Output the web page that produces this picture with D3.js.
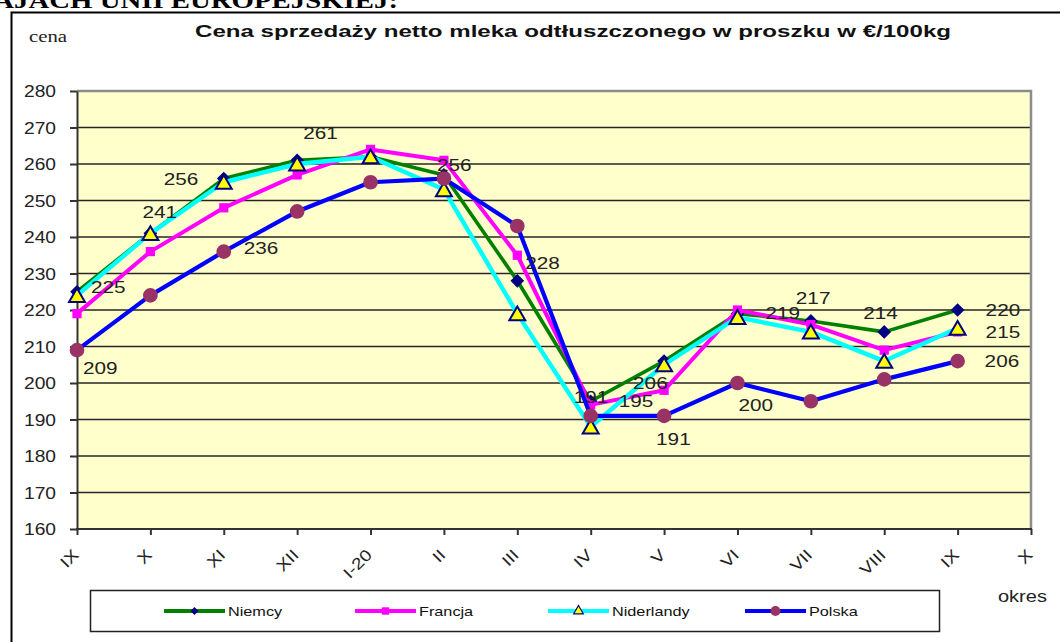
<!DOCTYPE html>
<html>
<head>
<meta charset="utf-8">
<script src="https://cdn.jsdelivr.net/npm/d3@7"></script>
<style>
  body { margin: 0; background: #fff; }
  svg { display: block; font-family: Arial, "Liberation Sans", sans-serif; }
  .grid line { stroke: #262626; stroke-width: 1.3; }
  .axis path, .axis line { stroke: #333; stroke-width: 2; }
</style>
</head>
<body>
<script>
(function () {
  "use strict";
  var width = 1060, height = 642,
    margin = { left: 77, right: 1031, top: 91, bottom: 529 },
    K = 1.22; // the original picture is a bit wider than tall, text looks stretched

  // months (okres)
  var months = ["IX", "X", "XI", "XII", "I-20", "II", "III", "IV", "V", "VI", "VII", "VIII", "IX ", "X "];
  var monthLabels = ["IX", "X", "XI", "XII", "I-20", "II", "III", "IV", "V", "VI", "VII", "VIII", "IX", "X"];
  var yTicks = [160, 170, 180, 190, 200, 210, 220, 230, 240, 250, 260, 270, 280];

  // price in €/100kg, one value per month (last month empty)
  var niemcy = [225, 241, 256, 261, 262, 257, 228, 195, 206, 219, 217, 214, 220];
  var francja = [219, 236, 248, 257, 264, 261, 235, 194, 198, 220, 216, 209, 214];
  var niderlandy = [224, 241, 255, 260, 262, 253, 219, 188, 205, 218, 214, 206, 215];
  var polska = [209, 224, 236, 247, 255, 256, 243, 191, 191, 200, 195, 201, 206];

  var seriesNames = ["Niemcy", "Francja", "Niderlandy", "Polska"];

  // which points carry a value label: [series index, month index]
  var labelled = [
    [0, 0], [0, 1], [0, 2], [0, 3], [0, 6], [0, 7], [0, 8], [0, 9], [0, 10], [0, 11], [0, 12],
    [2, 12],
    [3, 0], [3, 2], [3, 5], [3, 7], [3, 8], [3, 9], [3, 12]
  ];

  var series = [
    { name: seriesNames[0], values: niemcy, line: "#008000", width: 3.6, marker: "diamond", fill: "#000080", stroke: "none" },
    { name: seriesNames[1], values: francja, line: "#ff00ff", width: 4, marker: "square", fill: "#ff00ff", stroke: "none" },
    { name: seriesNames[2], values: niderlandy, line: "#00ffff", width: 4.4, marker: "triangle", fill: "#ffff00", stroke: "#000080" },
    { name: seriesNames[3], values: polska, line: "#0000ff", width: 4.2, marker: "circle", fill: "#993366", stroke: "none" }
  ];

  // label offsets relative to the point, left edge / vertical centre (layout only)
  var labelOffset = {
    "0,0": [14, -5], "0,1": [-8, -21], "0,2": [-60, 0], "0,3": [6, -27], "0,6": [8, -18],
    "0,7": [28, 0], "0,8": [-31, 22], "0,9": [28, -1], "0,10": [-15, -23], "0,11": [-21, -19],
    "0,12": [28, 0], "2,12": [28, 4], "3,0": [6, 18], "3,2": [20, -4], "3,5": [-7, -14],
    "3,7": [-17, -19], "3,8": [-8, 23], "3,9": [1, 22], "3,12": [27, 0]
  };

  // widen a text by k around its own x (the picture is stretched sideways)
  function stretch(sel, k) {
    sel.each(function () {
      var t = d3.select(this),
        x0 = +t.attr("x") || 0,
        tr = t.attr("transform") || "";
      t.attr("transform", tr + " translate(" + x0 + ",0) scale(" + k + ",1) translate(" + (-x0) + ",0)");
    });
    return sel;
  }

  var svg = d3.select("body").append("svg")
    .attr("width", width)
    .attr("height", height);

  var x = d3.scalePoint().domain(months).range([margin.left, margin.right]);
  var y = d3.scaleLinear().domain([160, 280]).range([margin.bottom, margin.top]);

  // heading cut off at the top of the page
  svg.append("text")
    .attr("x", 398).attr("y", 8)
    .attr("text-anchor", "end")
    .style("font-family", "'Liberation Serif', 'Times New Roman', serif")
    .style("font-weight", "bold")
    .style("font-size", "24px")
    .text("KRAJACH UNII EUROPEJSKIEJ:")
    .call(stretch, 1.2);

  // chart frame
  svg.append("path")
    .attr("d", "M11.5,643 V12.5 H1061")
    .attr("fill", "none")
    .attr("stroke", "#000")
    .attr("stroke-width", 2);

  svg.append("text")
    .attr("x", 195).attr("y", 37)
    .attr("textLength", 756)
    .attr("lengthAdjust", "spacingAndGlyphs")
    .style("font-weight", "bold")
    .style("font-size", "16px")
    .style("fill", "#111")
    .text("Cena sprzedaży netto mleka odtłuszczonego w proszku w €/100kg");

  svg.append("text")
    .attr("x", 29).attr("y", 42)
    .style("font-family", "'Liberation Serif', 'Times New Roman', serif")
    .style("font-size", "16px")
    .style("fill", "#222")
    .text("cena")
    .call(stretch, 1.3);

  // plot area
  svg.append("rect")
    .attr("x", margin.left).attr("y", margin.top)
    .attr("width", margin.right - margin.left)
    .attr("height", margin.bottom - margin.top)
    .attr("fill", "#ffffcc");

  svg.append("g")
    .attr("class", "grid")
    .selectAll("line")
    .data(yTicks.slice(1, -1))
    .enter().append("line")
    .attr("x1", margin.left).attr("x2", margin.right)
    .attr("y1", function (d) { return y(d); })
    .attr("y2", function (d) { return y(d); });

  svg.append("path")
    .attr("d", "M" + margin.left + "," + margin.top + " H" + margin.right + " V" + margin.bottom)
    .attr("fill", "none")
    .attr("stroke", "#8c8c8c")
    .attr("stroke-width", 2.5);

  var yAxis = svg.append("g")
    .attr("class", "axis")
    .attr("transform", "translate(" + margin.left + ",0)")
    .call(d3.axisLeft(y).tickValues(yTicks).tickSize(7).tickPadding(14).tickSizeOuter(0));
  yAxis.selectAll("text")
    .attr("dy", "0.35em")
    .style("font-family", "Arial, 'Liberation Sans', sans-serif")
    .style("font-size", "16px")
    .style("fill", "#222")
    .call(stretch, 1.2);

  var xAxis = svg.append("g")
    .attr("class", "axis")
    .attr("transform", "translate(0," + margin.bottom + ")")
    .call(d3.axisBottom(x).tickSize(6).tickSizeOuter(0)
      .tickFormat(function (d, i) { return monthLabels[i]; }));
  xAxis.select(".domain").attr("d", "M" + (margin.left - 1) + ",0H" + (margin.right + 1));
  xAxis.selectAll("text")
    .attr("text-anchor", "end")
    .attr("x", 0).attr("y", 0).attr("dy", 0)
    .attr("transform", "translate(2,27) rotate(-45)")
    .style("font-family", "Arial, 'Liberation Sans', sans-serif")
    .style("font-size", "16px")
    .style("fill", "#222")
    .call(stretch, 1.2);

  var symbols = {
    diamond: d3.symbol().type(d3.symbolDiamond2).size(120),
    square: d3.symbol().type(d3.symbolSquare).size(85),
    triangle: d3.symbol().type(d3.symbolTriangle).size(110),
    circle: d3.symbol().type(d3.symbolCircle).size(170)
  };

  var line = d3.line()
    .x(function (d, i) { return x(months[i]); })
    .y(function (d) { return y(d); });

  series.forEach(function (s) {
    var g = svg.append("g");
    g.append("path")
      .attr("d", line(s.values))
      .attr("fill", "none")
      .attr("stroke", s.line)
      .attr("stroke-width", s.width)
      .attr("stroke-linejoin", "round");
    g.selectAll("path.mark")
      .data(s.values)
      .enter().append("path")
      .attr("class", "mark")
      .attr("transform", function (d, i) {
        return "translate(" + x(months[i]) + "," + (y(d) + (s.marker === "triangle" ? 2 : 0)) + ")";
      })
      .attr("d", symbols[s.marker])
      .attr("fill", s.fill)
      .attr("stroke", s.stroke)
      .attr("stroke-width", 2);
  });

  svg.append("g")
    .selectAll("text")
    .data(labelled)
    .enter().append("text")
    .attr("x", function (d) { return x(months[d[1]]) + labelOffset[d.join(",")][0]; })
    .attr("y", function (d) { return y(series[d[0]].values[d[1]]) + labelOffset[d.join(",")][1]; })
    .attr("dy", "0.36em")
    .style("font-size", "17px")
    .style("fill", "#222")
    .text(function (d) { return series[d[0]].values[d[1]]; })
    .call(stretch, K);

  svg.append("text")
    .attr("x", 998).attr("y", 602)
    .style("font-size", "16px")
    .style("fill", "#222")
    .text("okres")
    .call(stretch, 1.25);

  // legend
  var legend = svg.append("g");
  legend.append("rect")
    .attr("x", 90.5).attr("y", 590.5)
    .attr("width", 849).attr("height", 41)
    .attr("fill", "#fff")
    .attr("stroke", "#222")
    .attr("stroke-width", 1.5);

  var legendX = [164, 355, 548, 745];
  var legendSymbols = {
    diamond: d3.symbol().type(d3.symbolDiamond2).size(40),
    square: d3.symbol().type(d3.symbolSquare).size(55),
    triangle: d3.symbol().type(d3.symbolTriangle).size(40),
    circle: d3.symbol().type(d3.symbolCircle).size(80)
  };
  var item = legend.selectAll("g.item")
    .data(series)
    .enter().append("g")
    .attr("class", "item")
    .attr("transform", function (d, i) { return "translate(" + legendX[i] + ",611)"; });
  item.append("line")
    .attr("x1", 0).attr("x2", 61)
    .attr("stroke", function (d) { return d.line; })
    .attr("stroke-width", 4);
  item.append("path")
    .attr("transform", "translate(30.5,0)")
    .attr("d", function (d) { return legendSymbols[d.marker](); })
    .attr("fill", function (d) { return d.fill; })
    .attr("stroke", function (d) { return d.stroke; })
    .attr("stroke-width", 1.2);
  item.append("text")
    .attr("x", 64).attr("dy", "0.35em")
    .style("font-size", "13px")
    .style("fill", "#111")
    .text(function (d) { return d.name; })
    .call(stretch, 1.25);
})();
</script>
</body>
</html>
